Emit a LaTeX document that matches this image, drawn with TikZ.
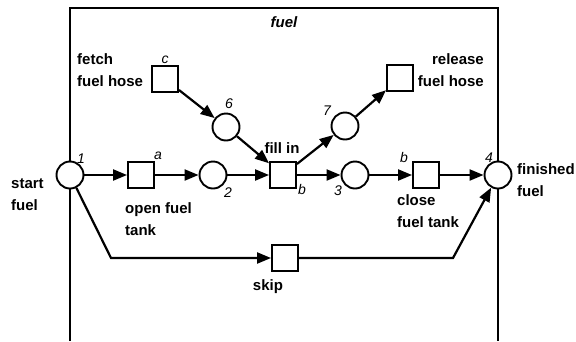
\documentclass[tikz,border=0pt]{standalone}
\usepackage{fontspec}
\setmainfont{Liberation Sans}
\usetikzlibrary{arrows.meta,positioning}

\tikzset{
  place/.style={circle, draw, line width=1.9pt, minimum size=27pt, inner sep=0pt},
  trans/.style={rectangle, draw, line width=1.9pt, minimum size=26pt, inner sep=0pt},
  flow/.style={line width=2.2pt, -{Triangle[length=14pt,width=11pt]}},
  lbl/.style={font=\fontsize{15}{22}\selectfont\bfseries, inner sep=0pt},
  num/.style={font=\fontsize{14}{16}\selectfont\itshape, inner sep=0pt, anchor=base},
}

\begin{document}
\begin{tikzpicture}[x=1pt,y=-1pt]
  \useasboundingbox (0,0) rectangle (576,341);

  % frame of the subnet
  \draw[line width=1.2pt] (70,341) -- (70,8) -- (498,8) -- (498,341);
  \node[lbl, anchor=base, font=\fontsize{15}{22}\selectfont\bfseries\itshape] (title) at (284,27) {fuel};

  % places
  \node[place, fill=white] (p1) at (70,175) {};
  \node[place] (p2) at (213,175) {};
  \node[place] (p3) at (355,175) {};
  \node[place, fill=white] (p4) at (498,175) {};
  \node[place] (p6) at (226,127) {};
  \node[place] (p7) at (345,126) {};

  % transitions
  \node[trans] (topen) at (141,175) {};
  \node[trans] (tfill) at (283,175) {};
  \node[trans] (tclose) at (426,175) {};
  \node[trans] (tskip) at (285,258) {};
  \node[trans] (tfetch) at (165,79) {};
  \node[trans] (trelease) at (400,78) {};

  \coordinate (bend1) at (111,258);
  \coordinate (bend2) at (453,258);

  % arcs
  \draw[flow] (p1) -- (topen);
  \draw[flow] (topen) -- (p2);
  \draw[flow] (p2) -- (tfill);
  \draw[flow] (tfill) -- (p3);
  \draw[flow] (p3) -- (tclose);
  \draw[flow] (tclose) -- (p4);
  \draw[flow] (tfetch) -- (p6);
  \draw[flow] (p6) -- (tfill);
  \draw[flow] (tfill) -- (p7);
  \draw[flow] (p7) -- (trelease);
  \draw[flow] (p1) -- (bend1) -- (tskip);
  \draw[flow] (tskip) -- (bend2) -- (p4);

  % names (base = baseline of the last line)
  \node[lbl, anchor=base west, align=left] (lstart) at (11,210) {start\\fuel};
  \node[lbl, anchor=base west, align=left] (lopen) at (125,235) {open fuel\\tank};
  \node[lbl, anchor=base west, align=left] (lfetch) at (77,86) {fetch\\fuel hose};
  \node[lbl, anchor=base east, align=right] (lrelease) at (484,86) {release\\fuel hose};
  \node[lbl, anchor=base] (lfill) at (282,153) {fill in};
  \node[lbl, anchor=base west, align=left] (lclose) at (397,227) {close\\fuel tank};
  \node[lbl, anchor=base west, align=left] (lfinish) at (517,196) {finished\\fuel};
  \node[lbl, anchor=base] (lskip) at (268,290) {skip};

  % numbers and labels
  \node[num] (n1) at (81,163) {1};
  \node[num] (n2) at (228,197) {2};
  \node[num] (n3) at (338,195) {3};
  \node[num] (n4) at (489,162) {4};
  \node[num] (n6) at (229,108) {6};
  \node[num] (n7) at (327,115) {7};
  \node[num] (na) at (158,159) {a};
  \node[num] (nb1) at (302,194) {b};
  \node[num] (nb2) at (404,162) {b};
  \node[num] (nc) at (165,63) {c};
\end{tikzpicture}
\end{document}
